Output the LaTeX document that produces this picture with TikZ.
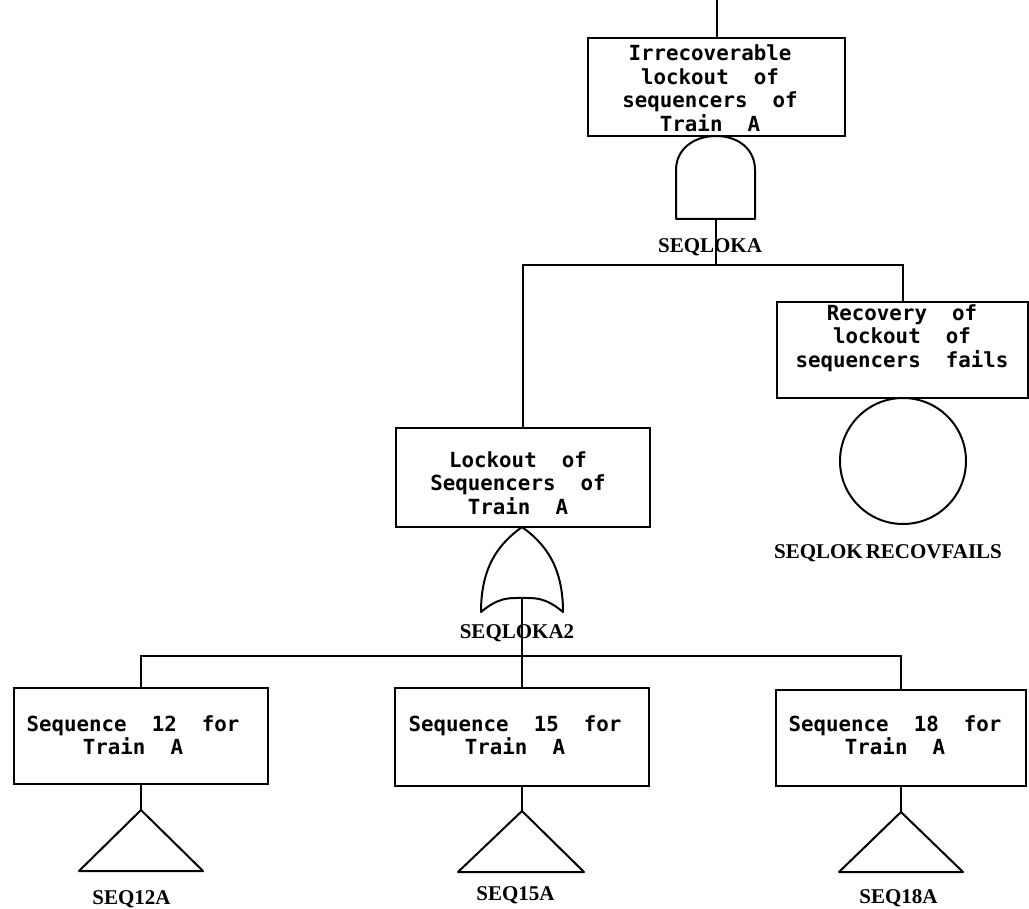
\documentclass[tikz,border=0pt]{standalone}
\usepackage{fontspec}
\newfontfamily\boxfont{DejaVu Sans Mono}[BoldFont={* Bold}]
\newfontfamily\labfont{Liberation Serif}[BoldFont={* Bold}]
\begin{document}
\begin{tikzpicture}[x=1pt,y=-1pt,line width=2pt,
  evbox/.style={draw,rectangle,inner sep=0pt},
  evtext/.style={align=center,inner sep=0pt,font=\boxfont\bfseries\fontsize{20.8}{23.5}\selectfont},
  idlab/.style={inner sep=0pt,font=\labfont\bfseries\fontsize{21}{24}\selectfont},
  gate/.style={line join=round}]
\useasboundingbox (0,0) rectangle (1029,909);
\fill[white] (0,0) rectangle (1029,909);
% boxes
\node[evbox,minimum width=257pt,minimum height=98pt] (top) at (716.5,87) {};
\node[evtext] (toptx) at (710,88) {Irrecoverable\\lockout~~of\\sequencers~~of\\Train~~A};
\node[evbox,minimum width=254pt,minimum height=99pt] (lock) at (523,477.5) {};
\node[evtext] (locktx) at (518,483) {Lockout~~of\\Sequencers~~of\\Train~~A};
\node[evbox,minimum width=251pt,minimum height=96pt] (recov) at (902.5,350) {};
\node[evtext] (recovtx) at (902,338) {Recovery~~of\\lockout~~of\\sequencers~~fails};
\node[evbox,minimum width=254pt,minimum height=96pt] (s12) at (141,736) {};
\node[evtext] (s12tx) at (133,735) {Sequence~~12~~for\\Train~~A};
\node[evbox,minimum width=254pt,minimum height=98pt] (s15) at (522,737) {};
\node[evtext] (s15tx) at (515,735) {Sequence~~15~~for\\Train~~A};
\node[evbox,minimum width=250pt,minimum height=96pt] (s18) at (901,738) {};
\node[evtext] (s18tx) at (895,735) {Sequence~~18~~for\\Train~~A};
% top input line
\coordinate (topin) at (716.5,0);
\draw (topin) -- (top.north);
% AND gate
\coordinate (andout) at (716,219);
\draw[gate] (676,219) -- (676,170) .. controls (676,149) and (694,136) .. (716,136)
  .. controls (738,136) and (755,149) .. (755,170) -- (755,219) -- cycle;
% OR gate
\coordinate (orout) at (522,598);
\draw[gate] (481,612) .. controls (481,565) and (500,543) .. (522,527)
  .. controls (544,543) and (563,565) .. (563,612)
  .. controls (545,597) and (535,598) .. (522,598)
  .. controls (509,598) and (499,597) .. (481,612) -- cycle;
% circle
\node[draw,circle,minimum size=126pt,inner sep=0pt] (circ) at (903,461) {};
% triangles
\coordinate (t12) at (141,810);
\coordinate (t15) at (522,811);
\coordinate (t18) at (901,812);
\draw[gate] (t12) -- (203,871) -- (79,871) -- cycle;
\draw[gate] (t15) -- (584,872) -- (458,872) -- cycle;
\draw[gate] (t18) -- (963,872) -- (839,872) -- cycle;
% connectors
\coordinate (j1) at (716,265);
\coordinate (j2) at (522,656);
\draw (andout) -- (j1);
\draw (lock.north) |- (j1);
\draw (recov.north) |- (j1);
\draw (orout) -- (j2);
\draw (s12.north) |- (j2);
\draw (s15.north) -- (j2);
\draw (s18.north) |- (j2);
\draw (s12.south) -- (t12);
\draw (s15.south) -- (t15);
\draw (s18.south) -- (t18);
% labels
\node[idlab] (l1) at (710,247) {SEQLOKA};
\node[idlab] (l2) at (517,633) {SEQLOKA2};
\node[idlab] (l3) at (888,553) {SEQLOK\hspace{3pt}RECOVFAILS};
\node[idlab] (l4) at (131.5,899) {SEQ12A};
\node[idlab] (l5) at (515.5,895) {SEQ15A};
\node[idlab] (l6) at (898.5,898) {SEQ18A};
\end{tikzpicture}
\end{document}
